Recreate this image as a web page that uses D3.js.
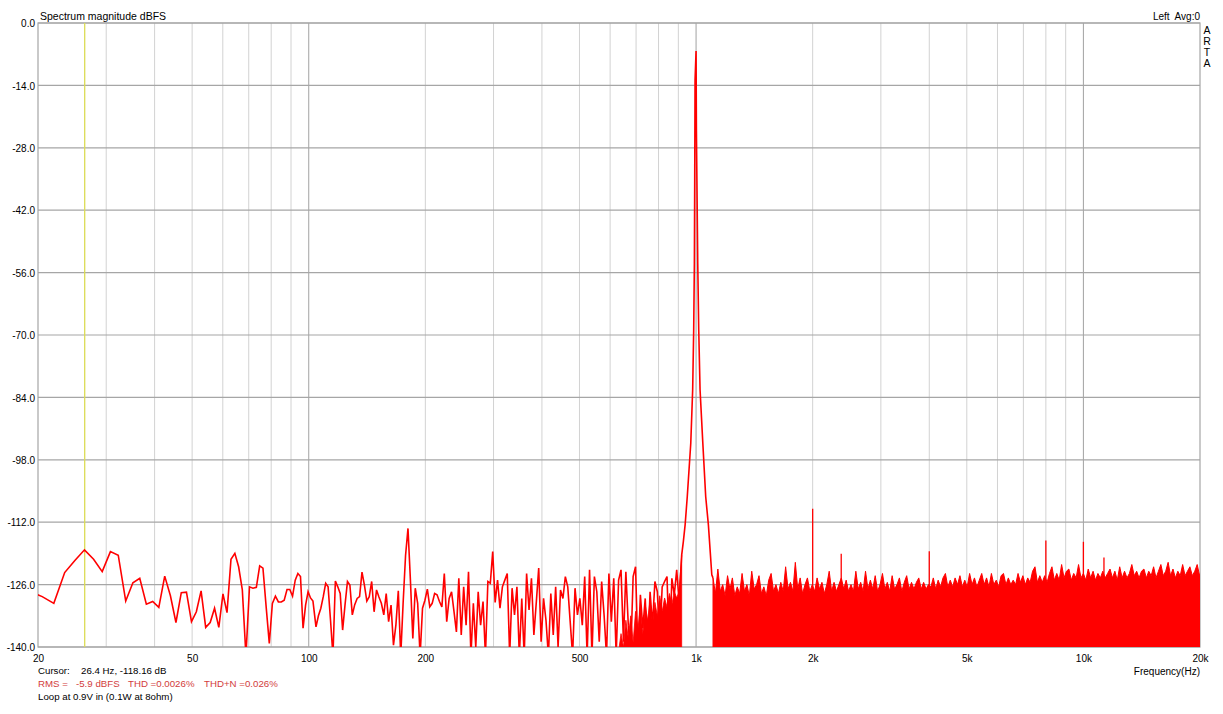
<!DOCTYPE html>
<html><head><meta charset="utf-8">
<script src="https://cdn.jsdelivr.net/npm/d3@7"></script>
<style>
body{margin:0;background:#fff;}
svg{display:block;font-family:Arial,"Liberation Sans",sans-serif;}
</style></head><body>
<svg id="c" width="1223" height="714"></svg>
<script>
// ---------------- data ----------------
// FFT bins below ~100 Hz (bin width 48000/32768 Hz), starting at bin 13
const binHz = 1.46484375;
const lowStartBin = 13;
const lowDb = [-127.5,-128.7,-130.2,-123.3,-120.6,-118.2,-120.3,-123.1,-118.6,-119.4,
  -129.7,-125.6,-124.6,-130.4,-129.8,-131.1,-124.1,-128.5,-134.5,-127.8,
  -127.7,-134.3,-132.1,-127.4,-135.6,-134.5,-131.3,-135.6,-128.1,-132.3,
  -120.3,-119.0,-122.0,-127.2,-142,-126.5,-126.8,-126.6,-121.8,-122.3,
  -131.0,-139.2,-130.2,-128.6,-129.9,-129.9,-129.5,-127.1,-127.1,-128.6,
  -125.0,-123.5,-124.2,-135.8,-130.6,-127.6,-129.0,-129.7];
// display samples (160 per decade from 100 Hz), index 3..153
const stepsPerDecade = 160;
const midStartIndex = 3;
const midDb = [-135.5,-133.0,-131.3,-128.7,-125.7,-126.5,-134.0,-142,-125.2,-126.5,
  -128.0,-136.2,-130.5,-125.3,-126.1,-132.8,-130.5,-129.1,-128.7,-123.2,
  -126.1,-129.7,-128.7,-125.3,-132.1,-127.2,-128.8,-130.2,-132.8,-128.0,
  -134.3,-130.6,-139.6,-135.1,-127.4,-142,-130.0,-119.4,-113.4,-125.0,
  -138.1,-126.8,-130.2,-142,-131.3,-129.5,-127.0,-131.0,-130.2,-128.0,
  -128.3,-129.8,-131.0,-123.5,-134.3,-129.1,-127.6,-132.0,-136.6,-124.6,
  -137.3,-126.5,-135.1,-123.1,-142,-130.2,-140,-127.6,-135.1,-129.8,
  -142,-125.3,-125.7,-118.6,-130.0,-125.0,-131.3,-126.5,-125.0,-123.5,
  -142,-126.8,-132.8,-126.5,-142,-129.1,-142,-123.5,-131.7,-124.6,
  -137.3,-130.0,-122.3,-138.8,-129.1,-134.0,-142,-128.0,-137.3,-126.5,
  -140,-127.2,-129.1,-124.2,-126.5,-134.3,-142,-126.8,-132.8,-129.1,
  -135.1,-124.2,-142,-122.7,-142,-124.2,-127.6,-138.8,-125.3,-132.8,
  -142,-123.5,-134.3,-124.6,-142,-125.0,-122.7,-138.8,-123.1,-135.1,
  -142,-124.2,-122.0,-142,-128.3,-135.8,-129.1,-142,-127.6,-135.1,
  -125.3,-127.6,-138.8,-126.5,-125.3,-124.2,-142,-124.6,-128.3,-122.7,
  -129.8];
// densely overlapped core under the trace just below the tone, index 128..153
const coreStartIndex = 128;
const coreDb = [-141,-137,-140,-134,-138,-133,-139,-132,-136,-131,-137,-130.5,-134,
  -129.5,-135,-130,-133,-128.5,-132,-129,-131,-128,-130.5,-127.5,-129,-127.5];
// the 1 kHz test tone
const peakFreq = [918,927,937,949,969,980,986,990,992,994,1000,1002,1010,1016,1024,1041,1059,1076,1087,1098];
const peakDb = [-119.4,-116.4,-112.6,-106.3,-94.3,-82.3,-68.9,-53.9,-35.2,-12.8,-6.3,-24.0,-53.9,-68.9,-82.3,-94.3,-106.3,-112.6,-118.2,-123.8];
// dense noise band above 1.1 kHz: upper envelope, samples index 167..369
const bandStartIndex = 167;
const bandTopDb = [-124.5,-128.0,-122.5,-127.5,-126.0,-128.5,-124.0,-127.0,-124.5,-128.5,
  -126.5,-128.0,-123.5,-127.5,-126.0,-128.5,-123.0,-127.0,-126.0,-124.0,
  -128.0,-126.5,-128.5,-125.0,-123.5,-127.5,-126.0,-128.0,-125.5,-127.5,
  -122.0,-127.0,-125.5,-127.5,-121.0,-127.0,-124.5,-128.0,-126.0,-124.5,
  -127.5,-126.0,-127.5,-124.5,-127.0,-125.5,-128.0,-126.0,-123.0,-127.5,
  -125.5,-127.5,-126.0,-124.5,-127.0,-125.0,-127.5,-126.0,-127.5,-123.0,
  -127.0,-125.5,-127.5,-123.0,-127.0,-125.0,-127.0,-124.0,-127.5,-126.0,
  -123.5,-127.0,-125.5,-127.5,-124.0,-127.0,-126.0,-124.5,-127.5,-125.5,
  -124.0,-127.0,-125.5,-127.0,-125.5,-124.5,-127.0,-125.5,-127.0,-126.0,
  -126.5,-124.5,-127.0,-125.0,-126.5,-124.5,-123.5,-126.5,-125.0,-126.5,
  -124.5,-126.0,-124.0,-126.5,-125.0,-126.5,-123.5,-126.0,-124.5,-126.5,
  -125.0,-123.5,-126.0,-124.5,-126.5,-123.5,-126.0,-125.0,-126.5,-124.0,
  -123.5,-126.0,-124.5,-126.0,-125.0,-126.0,-123.5,-125.5,-124.0,-126.0,
  -124.5,-125.5,-123.0,-122.0,-125.5,-124.0,-125.5,-124.0,-125.5,-123.5,
  -122.0,-125.0,-123.5,-125.0,-121.5,-124.5,-123.0,-122.5,-125.0,-123.5,
  -124.5,-121.5,-124.5,-123.5,-125.0,-122.5,-124.5,-123.0,-125.0,-123.5,
  -124.5,-123.0,-124.5,-123.5,-122.5,-124.5,-123.0,-125.0,-122.0,-124.5,
  -123.0,-124.5,-123.5,-121.5,-124.0,-123.0,-124.5,-123.0,-122.5,-124.5,
  -123.0,-124.0,-122.0,-124.5,-123.0,-121.5,-124.0,-123.0,-121.0,-124.0,
  -122.5,-124.5,-123.0,-124.0,-121.5,-124.0,-123.0,-122.0,-124.0,-123.0,
  -121.5,-124.0,-122.5];
// harmonic / hum spikes rising out of the band
const spikeFreq = [2000,2370,4000,8000,10000,11300];
const spikeDb = [-109.0,-119.1,-118.5,-116.1,-116.4,-119.9];

const yTicks = [0,-14,-28,-42,-56,-70,-84,-98,-112,-126,-140];
const xTickValues = [20,50,100,200,500,1000,2000,5000,10000,20000];
const xTickLabels = ["20","50","100","200","500","1k","2k","5k","10k","20k"];
const minorGrid = [30,40,50,60,70,80,90,200,300,400,500,600,700,800,900,2000,3000,4000,5000,6000,7000,8000,9000];
const decadeGrid = [100,1000,10000];
const cursorHz = 26.4;

// ---------------- drawing ----------------
const svg = d3.select("#c");
const L = 38, R = 1200, T = 23, B = 647;
const x = d3.scaleLog().domain([20,20000]).range([L,R]);
const y = d3.scaleLinear().domain([-140,0]).range([B,T]);
const sampleHz = i => 100*Math.pow(10, i/stepsPerDecade);

svg.append("defs").append("clipPath").attr("id","clip")
  .append("rect").attr("x",L).attr("y",T).attr("width",R-L).attr("height",B-T);

// grid
const g = svg.append("g");
g.selectAll(".mv").data(minorGrid).join("line")
  .attr("x1",d=>x(d)).attr("x2",d=>x(d)).attr("y1",T).attr("y2",B)
  .attr("stroke","#d2d2d2").attr("stroke-width",1);
g.selectAll(".dv").data(decadeGrid).join("line")
  .attr("x1",d=>x(d)).attr("x2",d=>x(d)).attr("y1",T).attr("y2",B)
  .attr("stroke","#a2a2a2").attr("stroke-width",1);
g.selectAll(".h").data(yTicks).join("line")
  .attr("x1",L).attr("x2",R).attr("y1",d=>y(d)).attr("y2",d=>y(d))
  .attr("stroke","#a6a6a6").attr("stroke-width",1.2);
svg.append("rect").attr("x",L).attr("y",T).attr("width",R-L).attr("height",B-T)
  .attr("fill","none").attr("stroke","#a6a6a6").attr("stroke-width",1.2);

// cursor
svg.append("line").attr("x1",x(cursorHz)).attr("x2",x(cursorHz)).attr("y1",T).attr("y2",B)
  .attr("stroke","#dcdc55").attr("stroke-width",1.3);

// data series
const trace = [];
lowDb.forEach((v,k)=>trace.push([(lowStartBin+k)*binHz, v]));
midDb.forEach((v,k)=>trace.push([sampleHz(midStartIndex+k), v]));
peakDb.forEach((v,k)=>trace.push([peakFreq[k], v]));
const band = bandTopDb.map((v,k)=>[sampleHz(bandStartIndex+k), v]);
trace.push(band[0]);
const core = coreDb.map((v,k)=>[sampleHz(coreStartIndex+k), v]);
core.push([peakFreq[0], peakDb[0]]);

const plot = svg.append("g").attr("clip-path","url(#clip)");
const area = d3.area().x(d=>x(d[0])).y0(y(-142)).y1(d=>y(d[1]));
plot.append("path").datum(core).attr("d", area)
  .attr("fill","#ff0000").attr("stroke","#ff0000").attr("stroke-width",0.8);
plot.append("path").datum(band).attr("d", area)
  .attr("fill","#ff0000").attr("stroke","#ff0000").attr("stroke-width",1);
plot.append("path").datum(trace)
  .attr("d", d3.line().x(d=>x(d[0])).y(d=>y(d[1])))
  .attr("fill","none").attr("stroke","#ff0000").attr("stroke-width",1.6).attr("stroke-linejoin","miter");
plot.selectAll(".sp").data(spikeFreq).join("line")
  .attr("x1",d=>x(d)).attr("x2",d=>x(d))
  .attr("y1",y(-127)).attr("y2",(d,i)=>y(spikeDb[i]))
  .attr("stroke","#ff0000").attr("stroke-width",1.3);

// axes
const ya = svg.append("g").attr("transform",`translate(${L},0)`)
  .call(d3.axisLeft(y).tickValues(yTicks).tickFormat(d=>d.toFixed(1)).tickSize(0).tickPadding(3));
ya.select(".domain").remove();
ya.selectAll("text").attr("font-size","10px").attr("fill","#000").attr("font-family","Arial, 'Liberation Sans', sans-serif").attr("dy","0.36em");
const xa = svg.append("g").attr("transform",`translate(0,${B})`)
  .call(d3.axisBottom(x).tickValues(xTickValues).tickFormat((d,i)=>xTickLabels[i]).tickSize(0).tickPadding(8));
xa.select(".domain").remove();
xa.selectAll("text").attr("font-size","10px").attr("fill","#000").attr("font-family","Arial, 'Liberation Sans', sans-serif");

// texts
const txt = (s,xx,yy,opt={}) => svg.append("text").attr("x",xx).attr("y",yy)
  .attr("font-size",opt.size||"10px").attr("fill",opt.fill||"#000")
  .attr("text-anchor",opt.anchor||"start").style("white-space","pre").text(s);
txt("Spectrum magnitude dBFS",40,20,{size:"10.5px"});
txt("Left  Avg:0",1200,20,{anchor:"end"});
["A","R","T","A"].forEach((c,i)=>txt(c,1207,34+i*11,{anchor:"middle",size:"10.5px"}));
txt("Frequency(Hz)",1200,675,{anchor:"end"});
txt("Cursor:",38,674,{size:"9.7px"});
txt("26.4 Hz, -118.16 dB",81,674,{size:"9.7px"});
const red = "#d23c3c";
txt("RMS =",38,687,{size:"9.7px",fill:red});
txt("-5.9 dBFS",76,687,{size:"9.7px",fill:red});
txt("THD =0.0026%",128,687,{size:"9.7px",fill:red});
txt("THD+N =0.026%",204,687,{size:"9.7px",fill:red});
txt("Loop at 0.9V in (0.1W at 8ohm)",38,700,{size:"9.7px"});
</script>
</body></html>
